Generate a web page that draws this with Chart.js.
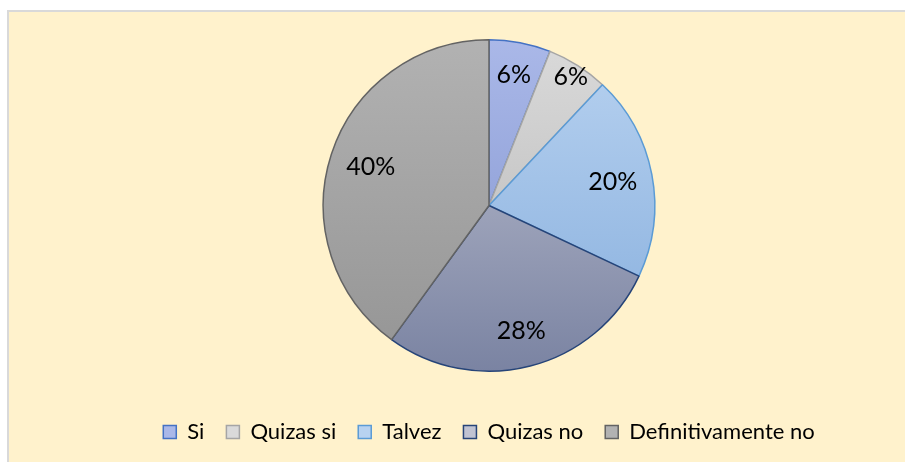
<!DOCTYPE html>
<html>
<head>
<meta charset="utf-8">
<script src="https://cdn.jsdelivr.net/npm/chart.js@4/dist/chart.umd.min.js"></script>
<style>
  html, body { margin: 0; padding: 0; background: #ffffff; }
  #wrap { position: absolute; left: 0; top: 0; width: 905px; height: 462px; }
</style>
</head>
<body>
<div id="wrap"><canvas id="pie" width="905" height="462"></canvas></div>
<script>
var labels = ['Si', 'Quizas si', 'Talvez', 'Quizas no', 'Definitivamente no']
var counts = [3, 3, 10, 14, 20]
var percentLabels = ['6%', '6%', '20%', '28%', '40%']

// top / bottom colour of each slice gradient, and the outline
var topColors = ['#AAB8E8', '#DADADA', '#B8D2F0', '#C0C3D2', '#B2B2B2']
var bottomColors = ['#7F92CE', '#B4B4B4', '#86AEDD', '#7A83A2', '#949494']
var borderColors = ['#4472C4', '#A5A5A5', '#5B9BD5', '#264478', '#636363']
// how far out each label sits (fraction of radius)
var labelRadius = [0.8, 0.92, 0.76, 0.78, 0.75]

function sliceFill(ctx) {
    var chart = ctx.chart
    var area = chart.chartArea
    if (!area) return topColors[ctx.dataIndex]
    var g = chart.ctx.createLinearGradient(0, area.top, 0, area.bottom)
    g.addColorStop(0, topColors[ctx.dataIndex])
    g.addColorStop(1, bottomColors[ctx.dataIndex])
    return g
}

const background = {
    id: 'background',
    beforeDraw(chart) {
        var c = chart.ctx
        c.save()
        c.fillStyle = '#FFF2CC'
        c.fillRect(8, 11, chart.width - 8, chart.height - 11)
        c.strokeStyle = '#D9D9D9'
        c.lineWidth = 2
        c.beginPath()
        c.moveTo(8, chart.height)
        c.lineTo(8, 11)
        c.lineTo(chart.width, 11)
        c.stroke()
        c.restore()
    }
}

const sliceLabels = {
    id: 'sliceLabels',
    afterDatasetsDraw(chart) {
        var c = chart.ctx
        var meta = chart.getDatasetMeta(0)
        c.save()
        c.fillStyle = '#000000'
        c.font = '25px Lato'
        c.textAlign = 'center'
        c.textBaseline = 'middle'
        meta.data.forEach(function (arc, i) {
            var mid = (arc.startAngle + arc.endAngle) / 2
            var r = arc.outerRadius * labelRadius[i]
            c.fillText(percentLabels[i], arc.x + Math.cos(mid) * r, arc.y + Math.sin(mid) * r)
        })
        c.restore()
    }
}

const data = {
    labels: labels,
    datasets: [{
        data: counts,
        backgroundColor: sliceFill,
        borderColor: borderColors,
        borderWidth: 1.5
    }]
}

const config = {
    type: 'pie',
    data: data,
    options: {
        responsive: false,
        animation: false,
        layout: { padding: { top: 39, left: 73, right: 0, bottom: 9 } },
        plugins: {
            tooltip: { enabled: false },
            legend: {
                position: 'bottom',
                // empty title only pushes the legend row down
                title: { display: true, text: '', font: { size: 10, lineHeight: 1 }, padding: { top: 17, bottom: 0 } },
                labels: {
                    color: '#000000',
                    font: { family: 'Lato', size: 22 },
                    boxWidth: 13,
                    boxHeight: 13,
                    padding: 22,
                    generateLabels(chart) {
                        return labels.map(function (l, i) {
                            return {
                                text: l,
                                fillStyle: topColors[i],
                                strokeStyle: borderColors[i],
                                fontColor: '#000000',
                                lineWidth: 1.5,
                                index: i
                            }
                        })
                    }
                }
            }
        }
    },
    plugins: [background, sliceLabels]
}

const myChart = new Chart(document.getElementById('pie'), config)
</script>
</body>
</html>
